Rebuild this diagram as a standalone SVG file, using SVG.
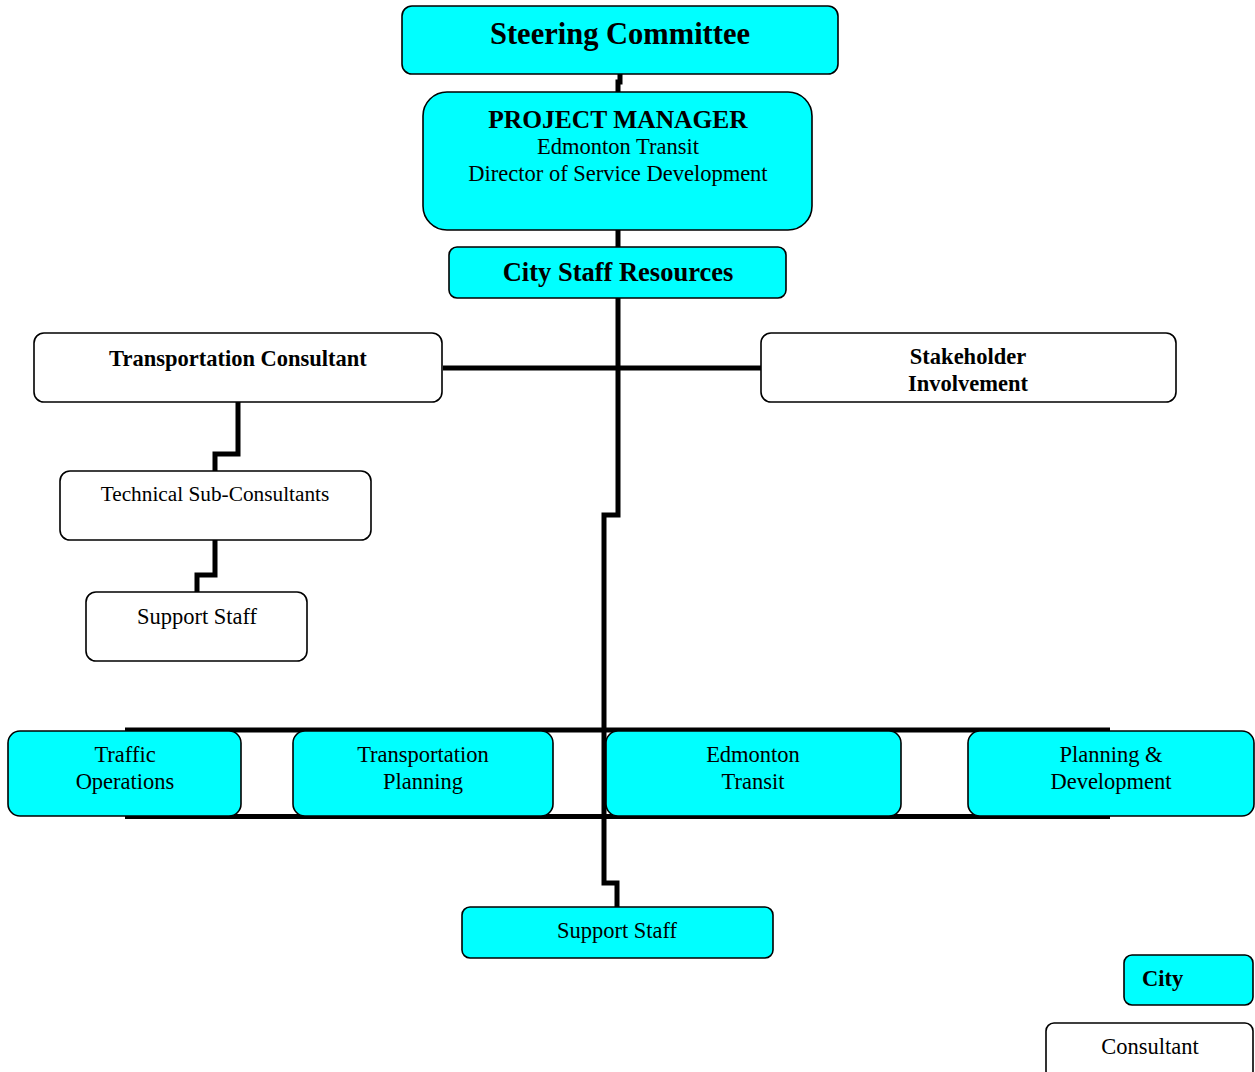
<svg xmlns="http://www.w3.org/2000/svg" width="1255" height="1072" viewBox="0 0 1255 1072">
<style>
.c{fill:#00FFFF;stroke:#000;stroke-width:1.6}
.w{fill:#fff;stroke:#000;stroke-width:1.6}
text{font-family:"Liberation Serif","Times New Roman",serif;fill:#000;text-anchor:middle;font-size:22.5px}
.b{font-weight:bold}
.ln{fill:none;stroke:#000;stroke-width:5}
</style>
<rect width="1255" height="1072" fill="#fff"/>
<g id="connectors">
<polyline class="ln" points="620,74 620,82 618,82 618,92"/>
<line class="ln" x1="618" y1="230" x2="618" y2="247"/>
<polyline class="ln" points="618,298 618,515 604,515 604,883 617,883 617,907"/>
<line class="ln" x1="443" y1="368" x2="761" y2="368"/>
<polyline class="ln" points="238,402 238,454 215,454 215,471"/>
<polyline class="ln" points="215,540 215,575 197,575 197,592"/>
<line class="ln" x1="125" y1="730" x2="1110" y2="730"/>
<line class="ln" x1="125" y1="816.5" x2="1110" y2="816.5"/>
</g>
<g id="steering"><rect class="c" x="402" y="6" width="436" height="68" rx="10"/><text class="b" x="620" y="44" style="font-size:30.5px">Steering Committee</text></g>
<g id="pm"><rect class="c" x="423" y="92" width="389" height="138" rx="24"/><text class="b" x="618" y="128" style="font-size:25.5px">PROJECT MANAGER</text><text x="618" y="154">Edmonton Transit</text><text x="618" y="181">Director of Service Development</text></g>
<g id="city-staff"><rect class="c" x="449" y="247" width="337" height="51" rx="8"/><text class="b" x="618" y="281" style="font-size:26.5px">City Staff Resources</text></g>
<g id="transport-consultant"><rect class="w" x="34" y="333" width="408" height="69" rx="10"/><text class="b" x="238" y="366">Transportation Consultant</text></g>
<g id="stakeholder"><rect class="w" x="761" y="333" width="415" height="69" rx="10"/><text class="b" x="968" y="364">Stakeholder</text><text class="b" x="968" y="391">Involvement</text></g>
<g id="tech-sub"><rect class="w" x="60" y="471" width="311" height="69" rx="10"/><text x="215" y="501" style="font-size:21.3px">Technical Sub-Consultants</text></g>
<g id="support-left"><rect class="w" x="86" y="592" width="221" height="69" rx="10"/><text x="197" y="624">Support Staff</text></g>
<g id="traffic"><rect class="c" x="8" y="731" width="233" height="85" rx="12"/><text x="125" y="762">Traffic</text><text x="125" y="789">Operations</text></g>
<g id="tplanning"><rect class="c" x="293" y="731" width="260" height="85" rx="12"/><text x="423" y="762">Transportation</text><text x="423" y="789">Planning</text></g>
<g id="etransit"><rect class="c" x="606" y="731" width="295" height="85" rx="12"/><text x="753" y="762">Edmonton</text><text x="753" y="789">Transit</text></g>
<g id="pdev"><rect class="c" x="968" y="731" width="286" height="85" rx="12"/><text x="1111" y="762">Planning &amp;</text><text x="1111" y="789">Development</text></g>
<g id="support-bottom"><rect class="c" x="462" y="907" width="311" height="51" rx="8"/><text x="617" y="938">Support Staff</text></g>
<g id="legend-city"><rect class="c" x="1124" y="955" width="129" height="50" rx="8"/><text class="b" x="1142" y="986" style="text-anchor:start">City</text></g>
<g id="legend-consultant"><rect class="w" x="1046" y="1023" width="207" height="56" rx="8"/><text x="1150" y="1054">Consultant</text></g>
</svg>
